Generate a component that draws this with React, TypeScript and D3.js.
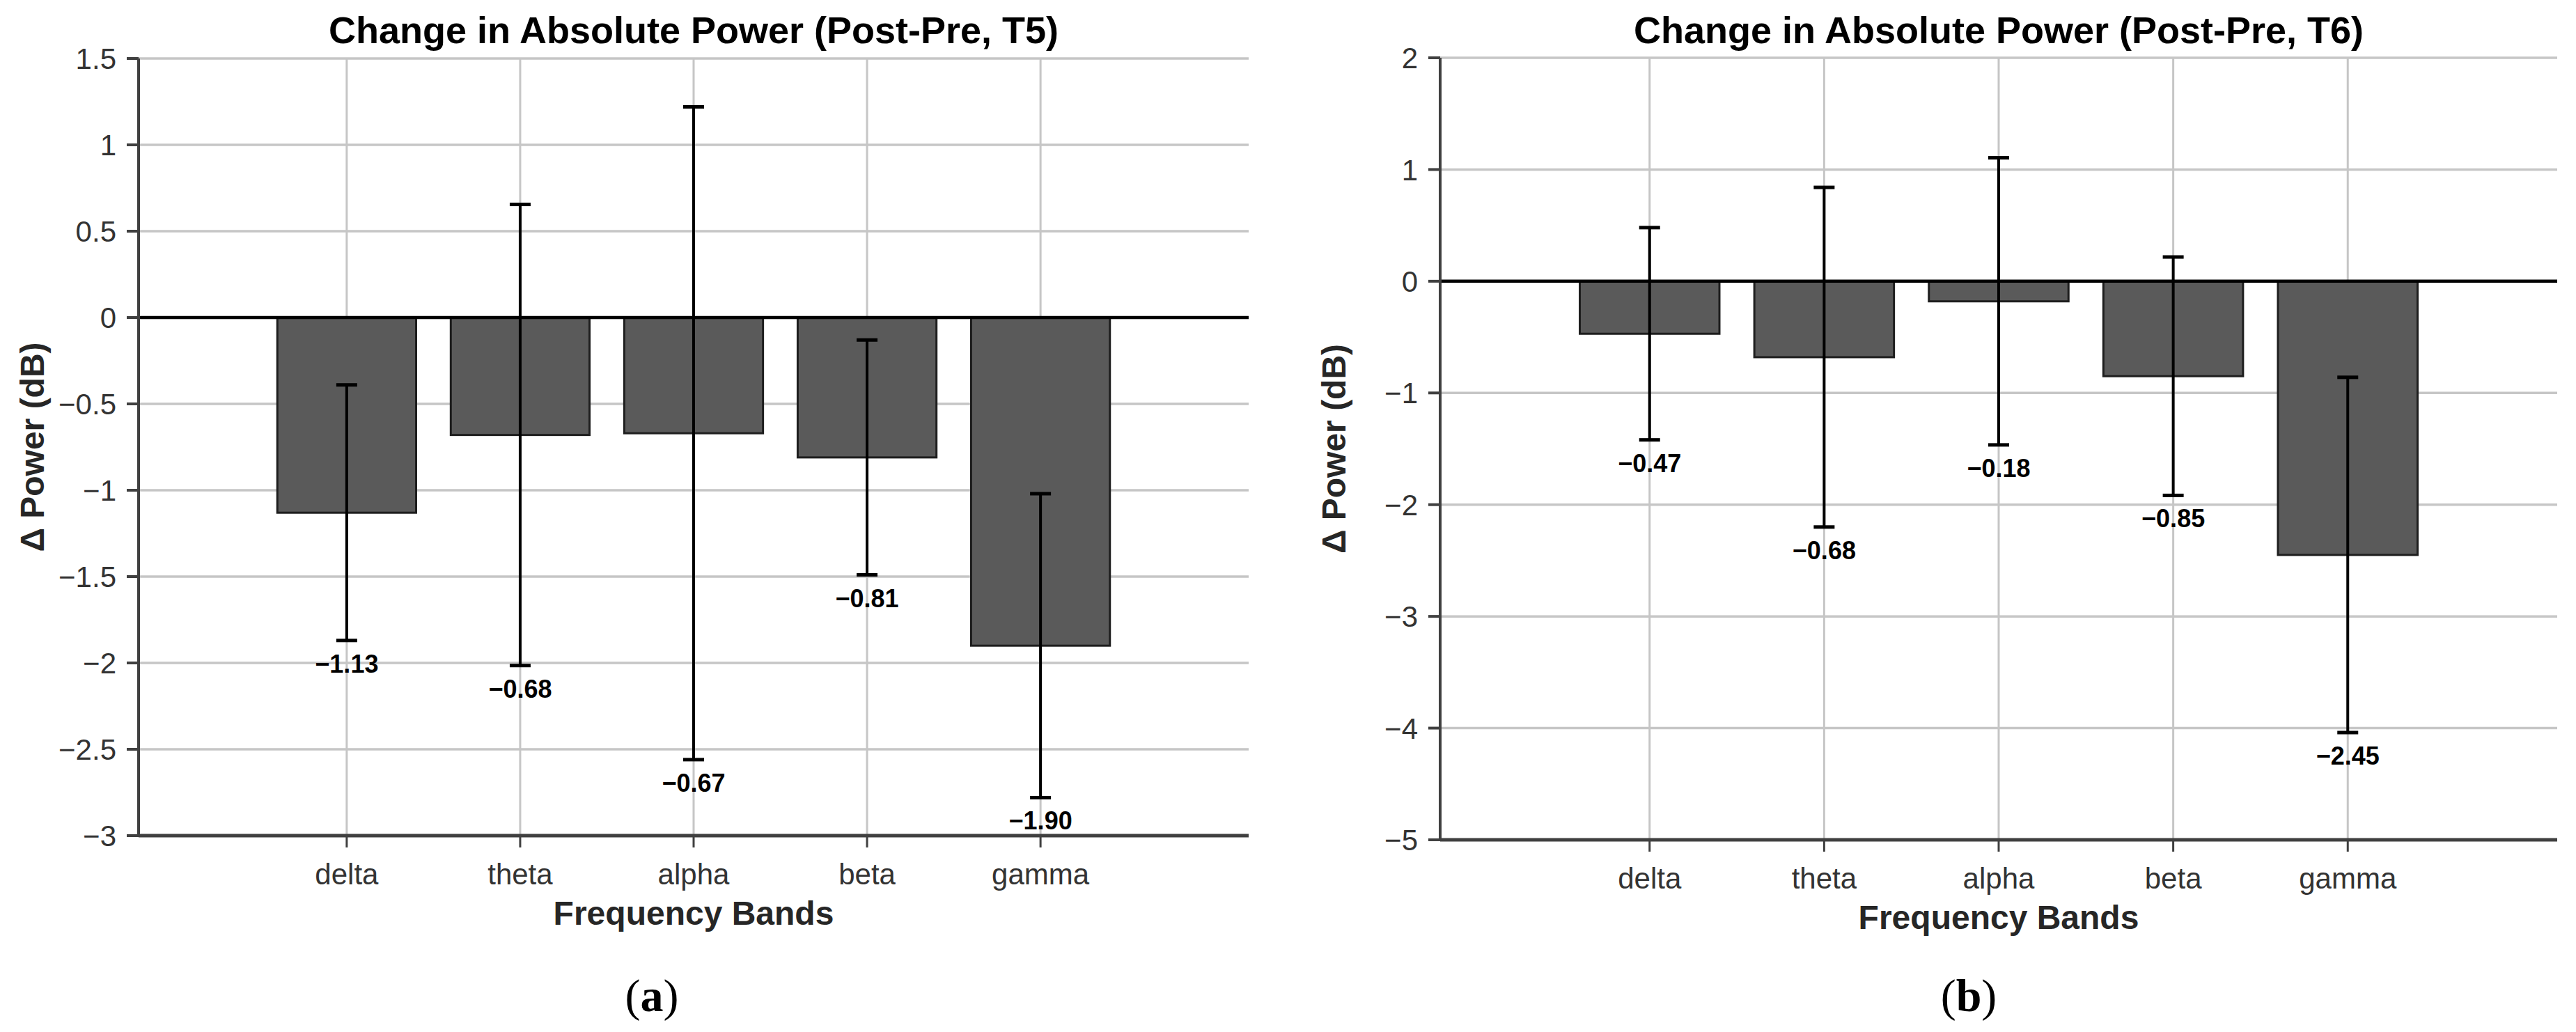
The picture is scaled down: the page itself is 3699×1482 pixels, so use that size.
import React from "react";
import * as d3 from "d3";

const bands = ["delta", "theta", "alpha", "beta", "gamma"];
const t5Means = [-1.13, -0.68, -0.67, -0.81, -1.9];
const t5Errors = [0.74, 1.335, 1.89, 0.68, 0.88];
const t5Ticks = [1.5, 1, 0.5, 0, -0.5, -1, -1.5, -2, -2.5, -3];
const t5Domain = [-3, 1.5];
const t6Means = [-0.47, -0.68, -0.18, -0.85, -2.45];
const t6Errors = [0.95, 1.52, 1.285, 1.067, 1.59];
const t6Ticks = [2, 1, 0, -1, -2, -3, -4, -5];
const t6Domain = [-5, 2];
const titles = [
  "Change in Absolute Power (Post-Pre, T5)",
  "Change in Absolute Power (Post-Pre, T6)",
];
const tags = ["a", "b"];
const xLabel = "Frequency Bands";
const yLabel = "\u0394 Power (dB)";

const SANS = "'Liberation Sans', Arial, Helvetica, sans-serif";
const SERIF = "'Liberation Serif', 'Times New Roman', serif";

const fmtTick = (v: number) => (v < 0 ? "\u2212" : "") + String(Math.abs(v));
const fmtVal = (v: number) => (v < 0 ? "\u2212" : "") + Math.abs(v).toFixed(2);

type Box = { left: number; right: number; top: number; bottom: number; tagX: number };

function Panel(props: {
  box: Box;
  domain: number[];
  ticks: number[];
  means: number[];
  errors: number[];
  title: string;
  tag: string;
}) {
  const { box, domain, ticks, means, errors, title, tag } = props;
  const x = d3.scaleLinear().domain([-0.2, 6.2]).range([box.left, box.right]);
  const y = d3.scaleLinear().domain(domain).range([box.bottom, box.top]);
  const step = x(2) - x(1);
  const barW = step * 0.8;
  const cx = (box.left + box.right) / 2;
  const cy = (box.top + box.bottom) / 2;
  const grid = "#c6c6c6";
  const axisCol = "#404040";
  return (
    <g>
      {/* horizontal gridlines */}
      {ticks.map((t) => (
        <line key={"hg" + t} x1={box.left} x2={box.right} y1={y(t)} y2={y(t)} stroke={grid} strokeWidth={3.5} />
      ))}
      {/* vertical gridlines */}
      {bands.map((b, i) => (
        <line key={"vg" + b} x1={x(i + 1)} x2={x(i + 1)} y1={box.top} y2={box.bottom} stroke={grid} strokeWidth={3} />
      ))}
      {/* bars */}
      {means.map((m, i) => (
        <rect
          key={"bar" + i}
          x={x(i + 1) - barW / 2}
          y={Math.min(y(0), y(m))}
          width={barW}
          height={Math.abs(y(m) - y(0))}
          fill="#5a5a5a"
          stroke="#1e1e1e"
          strokeWidth={3}
        />
      ))}
      {/* zero line */}
      <line x1={box.left} x2={box.right} y1={y(0)} y2={y(0)} stroke="#000" strokeWidth={4.5} />
      {/* error bars */}
      {means.map((m, i) => {
        const xc = x(i + 1);
        const hi = y(m + errors[i]);
        const lo = y(m - errors[i]);
        return (
          <g key={"err" + i} stroke="#000" strokeWidth={4}>
            <line x1={xc} x2={xc} y1={hi} y2={lo} />
            <line x1={xc - 15} x2={xc + 15} y1={hi} y2={hi} strokeWidth={5} />
            <line x1={xc - 15} x2={xc + 15} y1={lo} y2={lo} strokeWidth={5} />
          </g>
        );
      })}
      {/* value labels */}
      {means.map((m, i) => (
        <text
          key={"val" + i}
          x={x(i + 1)}
          y={y(m - errors[i]) + 46}
          textAnchor="middle"
          fontFamily={SANS}
          fontWeight="bold"
          fontSize={36}
          fill="#000"
        >
          {fmtVal(m)}
        </text>
      ))}
      {/* axes */}
      <line x1={box.left} x2={box.left} y1={box.top} y2={box.bottom} stroke={axisCol} strokeWidth={4} />
      <line x1={box.left} x2={box.right} y1={box.bottom} y2={box.bottom} stroke={axisCol} strokeWidth={5} />
      {ticks.map((t) => (
        <g key={"yt" + t}>
          <line x1={box.left - 17} x2={box.left} y1={y(t)} y2={y(t)} stroke={axisCol} strokeWidth={4} />
          <text
            x={box.left - 32}
            y={y(t)}
            dy="0.36em"
            textAnchor="end"
            fontFamily={SANS}
            fontSize={42}
            fill="#333"
          >
            {fmtTick(t)}
          </text>
        </g>
      ))}
      {bands.map((b, i) => (
        <g key={"xt" + b}>
          <line x1={x(i + 1)} x2={x(i + 1)} y1={box.bottom} y2={box.bottom + 17} stroke={axisCol} strokeWidth={3} />
          <text x={x(i + 1)} y={box.bottom + 70} textAnchor="middle" fontFamily={SANS} fontSize={42} fill="#333">
            {b}
          </text>
        </g>
      ))}
      {/* title */}
      <text x={cx} y={62} textAnchor="middle" fontFamily={SANS} fontWeight="bold" fontSize={54} fill="#000">
        {title}
      </text>
      {/* axis labels */}
      <text x={cx} y={box.bottom + 128} textAnchor="middle" fontFamily={SANS} fontWeight="bold" fontSize={48} fill="#262626">
        {xLabel}
      </text>
      <text
        transform={`translate(${box.left - 136},${cy}) rotate(-90)`}
        textAnchor="middle"
        fontFamily={SANS}
        fontWeight="bold"
        fontSize={48}
        fill="#262626"
      >
        {yLabel}
      </text>
      {/* panel tag */}
      <text x={box.tagX} y={1452} textAnchor="middle" fontFamily={SERIF} fontSize={66} fill="#000">
        (<tspan fontWeight="bold">{tag}</tspan>)
      </text>
    </g>
  );
}

export default function App() {
  const boxes: Box[] = [
    { left: 199, right: 1793, top: 84, bottom: 1200, tagX: 936 },
    { left: 2068, right: 3672, top: 83, bottom: 1206, tagX: 2827 },
  ];
  return (
    <svg
      width={3699}
      height={1482}
      viewBox="0 0 3699 1482"
      style={{ position: "absolute", left: 0, top: 0, display: "block", background: "#fff" }}
    >
      <rect x={0} y={0} width={3699} height={1482} fill="#fff" />
      <Panel box={boxes[0]} domain={t5Domain} ticks={t5Ticks} means={t5Means} errors={t5Errors} title={titles[0]} tag={tags[0]} />
      <Panel box={boxes[1]} domain={t6Domain} ticks={t6Ticks} means={t6Means} errors={t6Errors} title={titles[1]} tag={tags[1]} />
    </svg>
  );
}
